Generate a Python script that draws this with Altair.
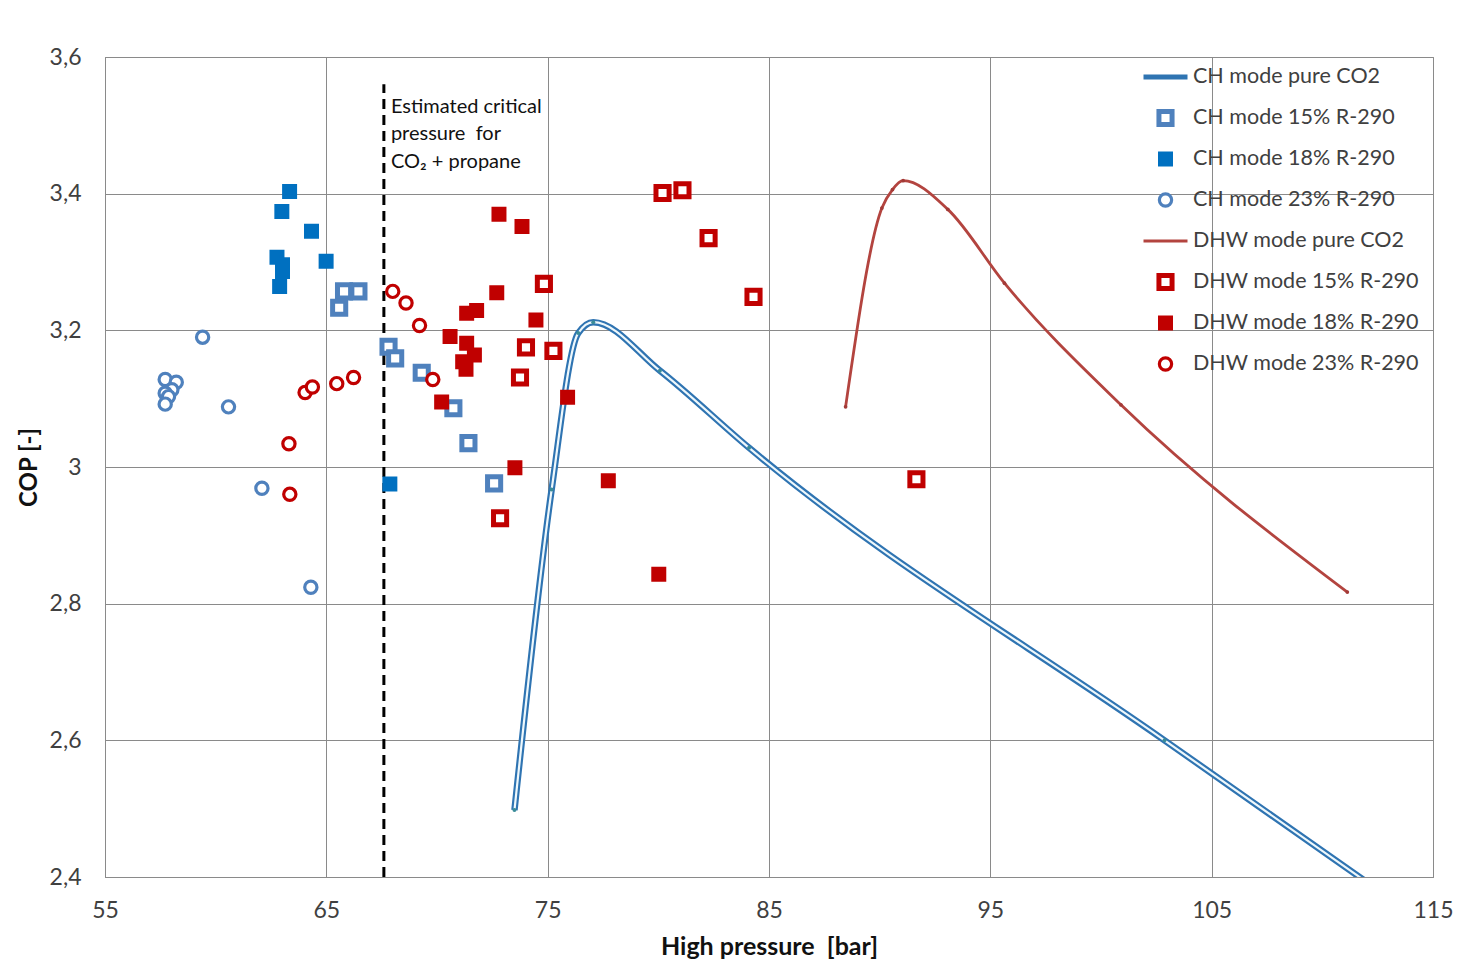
import altair as alt
import pandas as pd

# ---------------- data ----------------
x_ticks = [55, 65, 75, 85, 95, 105, 115]
y_ticks = [2.4, 2.6, 2.8, 3.0, 3.2, 3.4, 3.6]

SERIES = ["CH mode pure CO2", "CH mode 15% R-290", "CH mode 18% R-290", "CH mode 23% R-290",
          "DHW mode pure CO2", "DHW mode 15% R-290", "DHW mode 18% R-290", "DHW mode 23% R-290"]

ch_pure_x = [73.5, 75.18, 76.38, 77.06, 80.07, 84.1, 102.87, 113.0]
ch_pure_y = [2.498, 2.967, 3.196, 3.212, 3.141, 3.028, 2.600, 2.37]

dhw_pure_x = [88.46, 90.1, 90.58, 91.06, 93.08, 95.64, 100.9, 111.13]
dhw_pure_y = [3.088, 3.379, 3.406, 3.419, 3.377, 3.269, 3.091, 2.817]

ch15_x = [65.8, 66.45, 65.58, 67.81, 68.11, 69.31, 70.74, 71.42, 72.58]
ch15_y = [3.257, 3.257, 3.233, 3.176, 3.159, 3.138, 3.086, 3.035, 2.976]

ch18_x = [63.34, 62.99, 64.33, 62.77, 63.02, 63.02, 62.89, 64.99, 67.87]
ch18_y = [3.403, 3.374, 3.345, 3.307, 3.296, 3.286, 3.264, 3.301, 2.975]

ch23_x = [59.41, 57.72, 58.22, 58.02, 57.72, 57.87, 57.72, 60.58, 62.09, 64.30]
ch23_y = [3.190, 3.128, 3.124, 3.113, 3.108, 3.103, 3.092, 3.088, 2.969, 2.824]

dhw15_x = [74.83, 74.02, 75.26, 73.75, 72.85, 80.19, 81.09, 82.27, 84.30, 91.66]
dhw15_y = [3.268, 3.175, 3.170, 3.131, 2.925, 3.401, 3.405, 3.335, 3.249, 2.982]

dhw18_x = [72.80, 73.84, 72.70, 71.34, 71.79, 74.47, 70.59, 71.34, 71.69, 71.16, 71.31,
           70.21, 73.52, 75.90, 77.74, 80.02]
dhw18_y = [3.370, 3.352, 3.255, 3.225, 3.229, 3.215, 3.191, 3.181, 3.164, 3.154, 3.143,
           3.095, 2.999, 3.102, 2.980, 2.843]

dhw23_x = [64.04, 64.37, 65.47, 66.23, 63.31, 63.35, 68.0, 68.6, 69.21, 69.81]
dhw23_y = [3.109, 3.117, 3.122, 3.131, 3.034, 2.960, 3.257, 3.240, 3.207, 3.128]

crit_x = [67.6]
crit_y_low = [2.4]
crit_y_high = [3.56]
crit_text = ["Estimated critical", "pressure\u00a0 for", "CO\u2082 + propane"]
crit_text_y = [3.542]

# ---------------- styles ----------------
CH_LINE = "#2F74B2"
DHW_LINE = "#B3443F"
COLORS = [CH_LINE, "#4F81BD", "#0070C0", "#4F81BD", DHW_LINE, "#C00000", "#C00000", "#C00000"]
SHAPES = ["stroke", "square", "square", "circle", "stroke", "square", "square", "circle"]
FILLS = ["white", "white", "#0070C0", "white", "white", "white", "#C00000", "white"]
SIZES = [1936, 172, 110, 150, 1936, 172, 110, 150]
SWS = [5, 5, 4.5, 3.2, 3, 5, 4.5, 3.2]

FONT = "Lato"
GRID = "#8a8a8a"

# ---------------- frames ----------------
rows = []
for name, xs_, ys_ in [(SERIES[1], ch15_x, ch15_y), (SERIES[2], ch18_x, ch18_y),
                       (SERIES[3], ch23_x, ch23_y), (SERIES[5], dhw15_x, dhw15_y),
                       (SERIES[6], dhw18_x, dhw18_y), (SERIES[7], dhw23_x, dhw23_y)]:
    rows += [{"p": a, "cop": b, "series": name} for a, b in zip(xs_, ys_)]
pts = pd.DataFrame(rows)
ch_df = pd.DataFrame({"p": ch_pure_x, "cop": ch_pure_y})
dhw_df = pd.DataFrame({"p": dhw_pure_x, "cop": dhw_pure_y})
crit_df = pd.DataFrame({"p": crit_x, "lo": crit_y_low, "hi": crit_y_high})
txt_df = pd.DataFrame({"p": crit_x, "cop": crit_text_y, "t": [crit_text]})

xs = alt.Scale(domain=[55, 115], nice=False, zero=False)
ys = alt.Scale(domain=[2.4, 3.6], nice=False, zero=False)

x_enc = alt.X("p:Q", scale=xs, axis=alt.Axis(
    values=x_ticks, title="High pressure\u00a0 [bar]", grid=True, ticks=False,
    labelPadding=22, titlePadding=12, labelFontSize=23, titleFontSize=25,
    labelFlush=False))
y_enc = alt.Y("cop:Q", scale=ys, axis=alt.Axis(
    values=y_ticks, title="COP [-]", grid=True, ticks=False,
    labelExpr="replace(format(datum.value, '.2~r'), '.', ',')",
    labelPadding=24, titlePadding=8, labelFontSize=23, titleFontSize=24,
    labelFlush=False))

ch_outer = alt.Chart(ch_df).mark_line(interpolate="monotone", strokeWidth=6.5,
                                      color=CH_LINE, clip=True).encode(x=x_enc, y=y_enc, order="p:Q")
ch_inner = alt.Chart(ch_df).mark_line(interpolate="monotone", strokeWidth=2.2,
                                      color="#EEF8FC", clip=True).encode(x=x_enc, y=y_enc, order="p:Q")
ch_dots = alt.Chart(ch_df).mark_point(filled=True, size=16, color="#3A8C98",
                                      opacity=1, clip=True).encode(x=x_enc, y=y_enc)
dhw_line = alt.Chart(dhw_df).mark_line(interpolate="monotone", strokeWidth=2.8,
                                       color=DHW_LINE, clip=True).encode(x=x_enc, y=y_enc, order="p:Q")
dhw_dots = alt.Chart(dhw_df).mark_point(filled=True, size=14, color="#A23A37",
                                        opacity=1).encode(x=x_enc, y=y_enc)

crit_rule = alt.Chart(crit_df).mark_rule(color="black", strokeWidth=3,
                                         strokeDash=[10, 6]).encode(
    x=alt.X("p:Q", scale=xs), y=alt.Y("lo:Q", scale=ys), y2="hi:Q")

crit_label = alt.Chart(txt_df).mark_text(align="left", baseline="top", dx=7, font=FONT,
                                         fontSize=20, lineHeight=27.5, color="#111111").encode(
    x=alt.X("p:Q", scale=xs), y=alt.Y("cop:Q", scale=ys), text="t")

points = alt.Chart(pts).mark_point(filled=False, opacity=1).encode(
    x=x_enc, y=y_enc,
    color=alt.Color("series:N", scale=alt.Scale(domain=SERIES, range=COLORS),
                    legend=alt.Legend(title=None, orient="none", legendX=1036, legendY=9,
                                      clipHeight=22, rowPadding=19, labelFontSize=21.5,
                                      labelFont=FONT, labelColor="#404040", labelOffset=3,
                                      padding=0, labelLimit=400)),
    shape=alt.Shape("series:N", scale=alt.Scale(domain=SERIES, range=SHAPES)),
    fill=alt.Fill("series:N", scale=alt.Scale(domain=SERIES, range=FILLS)),
    size=alt.Size("series:N", scale=alt.Scale(type="ordinal", domain=SERIES, range=SIZES)),
    strokeWidth=alt.StrokeWidth("series:N", scale=alt.Scale(type="ordinal", domain=SERIES, range=SWS)),
)

chart = alt.layer(ch_outer, ch_inner, ch_dots, dhw_line, dhw_dots, crit_rule, crit_label, points).properties(
    width=1328, height=820,
    autosize=alt.AutoSizeParams(type="none"),
    padding={"left": 97, "top": 49, "right": 23, "bottom": 82},
    background="white",
).configure_axis(
    labelFont=FONT, titleFont=FONT, labelColor="#404040", titleColor="#111111",
    domainColor=GRID, gridColor=GRID, gridWidth=1, domainWidth=1, titleFontWeight="bold",
).configure_view(stroke=GRID, strokeWidth=1)

chart.save("out.html", embed_options={"renderer": "svg", "actions": False})
